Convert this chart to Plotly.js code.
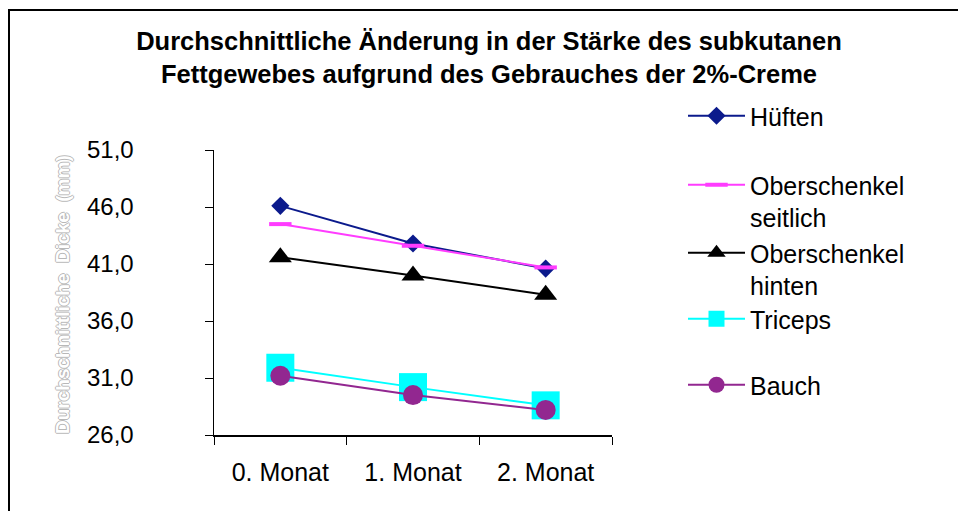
<!DOCTYPE html>
<html>
<head>
<meta charset="utf-8">
<script src="https://cdn.plot.ly/plotly-3.0.1.min.js"></script>
<style>html,body{margin:0;padding:0;background:#fff}#chart{width:958px;height:511px}</style>
</head>
<body>
<div id="chart"></div>
<script>
var months = ['0. Monat', '1. Monat', '2. Monat'];
var hueften = [46.1, 42.8, 40.6];
var oberschenkelSeitlich = [44.5, 42.6, 40.7];
var oberschenkelHinten = [41.6, 40.0, 38.3];
var triceps = [31.9, 30.2, 28.6];
var bauch = [31.2, 29.5, 28.2];
var seriesNames = ['Hüften', 'Oberschenkel<br>seitlich', 'Oberschenkel<br>hinten', 'Triceps', 'Bauch'];
var yTicks = [26, 31, 36, 41, 46, 51];

var FONT = 'Liberation Sans, Arial, sans-serif';
var L = 214, R = 612, T = 150, B = 435;
function px(x) { return (x - L) / (R - L); }
function py(y) { return (B - y) / (B - T); }

var traces = [
  {name: seriesNames[0], y: hueften, color: '#0B1A8C', symbol: 'diamond', size: 14, legend: 'legend'},
  {name: seriesNames[1], y: oberschenkelSeitlich, color: '#FF3CFF', symbol: 'line-ew', size: 16, legend: 'legend2'},
  {name: seriesNames[2], y: oberschenkelHinten, color: '#000000', symbol: 'triangle-up', size: 20, legend: 'legend3'},
  {name: seriesNames[3], y: triceps, color: '#00FFFF', symbol: 'square', size: 28, legend: 'legend4'},
  {name: seriesNames[4], y: bauch, color: '#922790', symbol: 'circle', size: 20, legend: 'legend5'}
].map(function (s) {
  return {
    type: 'scatter', mode: 'lines+markers', x: months, y: s.y, name: s.name,
    legend: s.legend,
    line: {color: s.color, width: 2},
    marker: {symbol: s.symbol, size: s.size, color: s.color,
             line: {color: s.color, width: s.symbol === 'line-ew' ? 4 : 0}},
    cliponaxis: false
  };
});

var legendRows = [116, 185, 253, 319, 385];
function legendAt(row) {
  return {
    x: px(683), y: py(row - 23), xanchor: 'left', yanchor: 'top',
    bgcolor: 'rgba(0,0,0,0)', borderwidth: 0, valign: 'top',
    itemwidth: 57, font: {family: FONT, size: 25, color: '#000'}
  };
}

var layout = {
  width: 958, height: 511,
  margin: {l: L, r: 958 - R, t: T, b: 511 - B, pad: 0},
  paper_bgcolor: '#fff', plot_bgcolor: '#fff',
  separators: ',.',
  font: {family: FONT, color: '#000'},
  showlegend: true,
  title: {
    text: '<b>Durchschnittliche Änderung in der Stärke des subkutanen<br>Fettgewebes aufgrund des Gebrauches der 2%-Creme</b>',
    font: {family: FONT, size: 25.5, color: '#000'},
    x: 489 / 958, xanchor: 'center', xref: 'container',
    y: 1 - 50 / 511, yanchor: 'top', yref: 'container'
  },
  xaxis: {
    type: 'category', range: [-0.5, 2.5], tickson: 'boundaries',
    ticks: 'outside', ticklen: 8, tickwidth: 1, tickcolor: '#000',
    showline: true, linecolor: '#000', linewidth: 1.5,
    showgrid: false, zeroline: false, fixedrange: true,
    tickfont: {family: FONT, size: 25, color: '#000'},
    ticklabelstandoff: 14
  },
  yaxis: {
    range: [26, 51], tickvals: yTicks, tickformat: '.1f',
    ticks: 'outside', ticklen: 8, tickwidth: 1, tickcolor: '#000',
    showline: true, linecolor: '#000', linewidth: 1.5,
    showgrid: false, zeroline: false, fixedrange: true,
    tickfont: {family: FONT, size: 24, color: '#000'},
    ticklabelstandoff: 66
  },
  annotations: [{
    text: '<b>Durchschnittliche  Dicke  (mm)</b>', textangle: -90,
    xref: 'paper', yref: 'paper', x: px(62), y: py(295),
    xanchor: 'center', yanchor: 'middle', showarrow: false,
    font: {family: FONT, size: 19, color: '#ffffff',
           shadow: '1px 0 0 #b8b8b8, -1px 0 0 #b8b8b8, 0 1px 0 #b8b8b8, 0 -1px 0 #b8b8b8'}
  }],
  shapes: [
    {type: 'line', xref: 'paper', yref: 'paper', x0: px(8), x1: px(960), y0: py(10), y1: py(10), line: {color: '#000', width: 2}},
    {type: 'line', xref: 'paper', yref: 'paper', x0: px(9), x1: px(9), y0: py(9), y1: py(515), line: {color: '#000', width: 2}}
  ],
  legend: legendAt(legendRows[0]),
  legend2: legendAt(legendRows[1]),
  legend3: legendAt(legendRows[2]),
  legend4: legendAt(legendRows[3]),
  legend5: legendAt(legendRows[4])
};

Plotly.newPlot('chart', traces, layout, {displayModeBar: false, staticPlot: true});
</script>
</body>
</html>
